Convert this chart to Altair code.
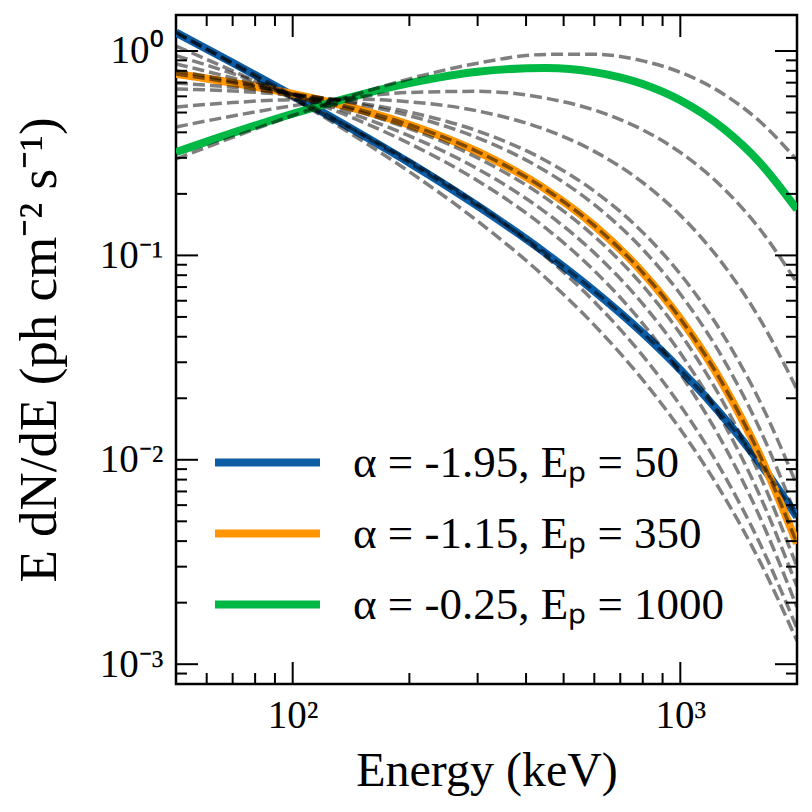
import altair as alt
import pandas as pd

# ---------------- data ----------------
ENERGY = [50, 70, 100, 150, 200, 300, 450, 600, 800, 1000, 1300, 1600, 2000]

BLUE = [1.23, 0.876, 0.606, 0.392, 0.284, 0.1746, 0.1023, 0.0669, 0.0417, 0.0276, 0.01595, 0.0097, 0.00526]
ORANGE = [0.772, 0.699, 0.616, 0.5135, 0.4356, 0.3215, 0.2101, 0.1398, 0.0824, 0.0490, 0.02273, 0.01063, 0.00389]
GREEN = [0.32, 0.3977, 0.4931, 0.6124, 0.6961, 0.7921, 0.8257, 0.788, 0.6891, 0.574, 0.4134, 0.2858, 0.1678]

GRAY_1 = [0.296, 0.3781, 0.4834, 0.6236, 0.7304, 0.8716, 0.9622, 0.9644, 0.8943, 0.7866, 0.6113, 0.4543, 0.2927]
GRAY_2 = [0.425, 0.481, 0.5398, 0.5982, 0.6268, 0.6347, 0.5874, 0.5141, 0.4112, 0.319, 0.2105, 0.1354, 0.0733]
GRAY_3 = [0.532, 0.5591, 0.5782, 0.5806, 0.5643, 0.5089, 0.412, 0.3229, 0.2273, 0.1572, 0.0886, 0.0492, 0.0221]
GRAY_4 = [0.652, 0.6369, 0.608, 0.5551, 0.5022, 0.406, 0.2906, 0.2062, 0.1296, 0.081, 0.03985, 0.01952, 0.0075]
GRAY_5 = [0.697, 0.6644, 0.6177, 0.5462, 0.4824, 0.376, 0.2582, 0.1771, 0.1071, 0.0647, 0.0304, 0.01426, 0.0052]
GRAY_6 = [0.772, 0.699, 0.616, 0.5135, 0.4356, 0.3215, 0.2101, 0.1398, 0.0824, 0.0490, 0.02273, 0.01063, 0.00389]
GRAY_7 = [0.80, 0.7116, 0.6148, 0.5005, 0.4172, 0.300, 0.1905, 0.1239, 0.0711, 0.0414, 0.01862, 0.00848, 0.0030]
GRAY_8 = [0.864, 0.7384, 0.612, 0.4759, 0.3844, 0.265, 0.162, 0.1029, 0.0579, 0.0333, 0.01486, 0.00675, 0.0024]
GRAY_9 = [0.95, 0.7758, 0.6133, 0.4526, 0.3528, 0.232, 0.1359, 0.0841, 0.0464, 0.02636, 0.01167, 0.0053, 0.0019]
GRAY_10 = [1.058, 0.7993, 0.5833, 0.3949, 0.2908, 0.178, 0.0986, 0.0593, 0.0323, 0.01843, 0.00836, 0.00394, 0.0015]
GRAY_11 = [1.23, 0.876, 0.606, 0.392, 0.284, 0.1746, 0.1023, 0.0669, 0.0417, 0.0276, 0.01595, 0.0097, 0.00526]
GRAY_12 = [1.23, 0.8648, 0.5864, 0.3668, 0.2565, 0.1471, 0.0775, 0.0456, 0.0246, 0.0141, 0.00656, 0.00321, 0.0013]

LEGEND_LABELS = ["α = -1.95, Eₚ = 50", "α = -1.15, Eₚ = 350", "α = -0.25, Eₚ = 1000"]
COLORS = ["#0C5DA5", "#FF9500", "#00B945"]

X_MAJOR = [100, 1000]
X_MAJOR_LABELS = ["10²", "10³"]
X_MINOR = [60, 70, 80, 90, 200, 300, 400, 500, 600, 700, 800, 900]
Y_MAJOR = [0.001, 0.01, 0.1, 1]
Y_MAJOR_LABELS = ["10⁻³", "10⁻²", "10⁻¹", "10⁰"]
Y_MINOR = [0.0009,
           0.002, 0.003, 0.004, 0.005, 0.006, 0.007, 0.008, 0.009,
           0.02, 0.03, 0.04, 0.05, 0.06, 0.07, 0.08, 0.09,
           0.2, 0.3, 0.4, 0.5, 0.6, 0.7, 0.8, 0.9]

# ---------------- tables ----------------
colored_rows = []
for lab, vals in zip(LEGEND_LABELS, [BLUE, ORANGE, GREEN]):
    for e, v in zip(ENERGY, vals):
        colored_rows.append({"E": e, "v": v, "label": lab})
colored_df = pd.DataFrame(colored_rows)

gray_rows = []
for i, vals in enumerate([GRAY_1, GRAY_2, GRAY_3, GRAY_4, GRAY_5, GRAY_6,
                          GRAY_7, GRAY_8, GRAY_9, GRAY_10, GRAY_11, GRAY_12]):
    for e, v in zip(ENERGY, vals):
        gray_rows.append({"E": e, "v": v, "curve": f"g{i}"})
gray_df = pd.DataFrame(gray_rows)

W, H = 621, 669
FONT = "Liberation Serif"

xscale = alt.Scale(type="log", domain=[50, 2000], nice=False)
yscale = alt.Scale(type="log", domain=[0.0008, 1.5], nice=False)


def label_expr(values, labels):
    expr = "''"
    for val, lab in zip(values, labels):
        expr = f"abs(datum.value - {val}) < {val} * 0.01 ? '{lab}' : ({expr})"
    return expr


x_axis = alt.Axis(values=X_MAJOR, labelExpr=label_expr(X_MAJOR, X_MAJOR_LABELS),
                  title="Energy (keV)", titleFont=FONT, titleFontSize=48, titleFontWeight="normal",
                  titleX=W / 2, titleY=101, titleBaseline="alphabetic", titleAlign="center",
                  labelFont=FONT, labelFontSize=39, labelPadding=12, labelColor="black",
                  ticks=False, tickSize=0, domain=False, grid=False, labelFlush=False)
y_axis = alt.Axis(values=Y_MAJOR, labelExpr=label_expr(Y_MAJOR, Y_MAJOR_LABELS),
                  title="E dN/dE (ph cm⁻² s⁻¹)", titleFont=FONT, titleFontSize=53, titleFontWeight="normal",
                  titleX=-121, titleY=H / 2, titleAngle=270, titleBaseline="alphabetic", titleAlign="center",
                  labelFont=FONT, labelFontSize=39, labelPadding=13, labelColor="black",
                  ticks=False, tickSize=0, domain=False, grid=False, labelFlush=False)

colored = alt.Chart(colored_df).mark_line(strokeWidth=8, interpolate="monotone", clip=True).encode(
    x=alt.X("E:Q", scale=xscale, axis=x_axis),
    y=alt.Y("v:Q", scale=yscale, axis=y_axis),
    color=alt.Color("label:N", scale=alt.Scale(domain=LEGEND_LABELS, range=COLORS),
                    legend=alt.Legend(title=None, orient="none", legendX=35, legendY=420,
                                      symbolType="stroke", symbolSize=11025, symbolStrokeWidth=8,
                                      clipHeight=55,
                                      labelFont=FONT, labelFontSize=45, labelOffset=29,
                                      labelColor="black", labelLimit=800, rowPadding=16)),
    detail="label:N",
)

gray = alt.Chart(gray_df).mark_line(stroke="black", strokeOpacity=0.5, strokeWidth=3.5,
                                    strokeDash=[12, 5], interpolate="monotone", clip=True).encode(
    x=alt.X("E:Q", scale=xscale),
    y=alt.Y("v:Q", scale=yscale),
    detail="curve:N",
)

xmaj = pd.DataFrame({"E": X_MAJOR})
xmin = pd.DataFrame({"E": X_MINOR})
ymaj = pd.DataFrame({"v": Y_MAJOR})
ymin = pd.DataFrame({"v": Y_MINOR})

MAJ, MIN, TW = 22, 11, 2


def xticks(df, length):
    bottom = alt.Chart(df).mark_rule(color="black", strokeWidth=TW).encode(
        x=alt.X("E:Q", scale=xscale), y=alt.value(H), y2=alt.value(H - length))
    top = alt.Chart(df).mark_rule(color="black", strokeWidth=TW).encode(
        x=alt.X("E:Q", scale=xscale), y=alt.value(0), y2=alt.value(length))
    return [bottom, top]


def yticks(df, length):
    left = alt.Chart(df).mark_rule(color="black", strokeWidth=TW).encode(
        y=alt.Y("v:Q", scale=yscale), x=alt.value(0), x2=alt.value(length))
    right = alt.Chart(df).mark_rule(color="black", strokeWidth=TW).encode(
        y=alt.Y("v:Q", scale=yscale), x=alt.value(W), x2=alt.value(W - length))
    return [left, right]


tick_layers = xticks(xmaj, MAJ) + xticks(xmin, MIN) + yticks(ymaj, MAJ) + yticks(ymin, MIN)

chart = alt.layer(colored, gray, *tick_layers).properties(
    width=W, height=H,
    autosize=alt.AutoSizeParams(type="none"),
    padding={"left": 168, "top": 7, "right": 7, "bottom": 120},
    background="white",
).configure_view(stroke="black", strokeWidth=2.5)

chart.save("out.html", embed_options={"renderer": "svg", "actions": False})
